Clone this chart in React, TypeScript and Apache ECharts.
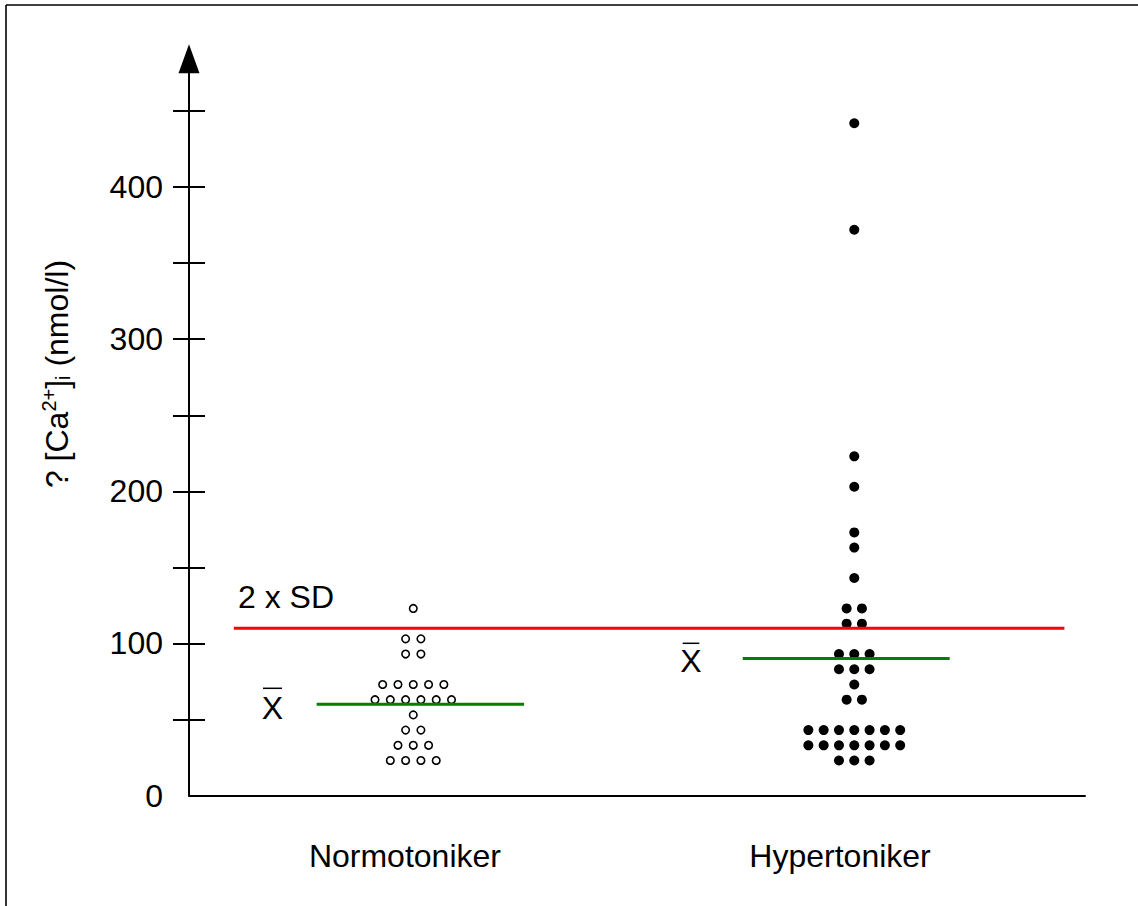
import React, { useEffect, useRef } from "react";
import * as echarts from "echarts";

// ---- data ----
const categories = ["Normotoniker", "Hypertoniker"];
const normoValues = [123, 103, 103, 93, 93, 73, 73, 73, 73, 73, 63, 63, 63, 63, 63, 63, 53, 43, 43, 33, 33, 33, 23, 23, 23, 23];
const hyperValues = [442, 372, 223, 203, 173, 163, 143, 123, 123, 113, 113, 93, 93, 93, 83, 83, 83, 73, 63, 63, 43, 43, 43, 43, 43, 43, 43, 33, 33, 33, 33, 33, 33, 33, 23, 23, 23];
const meanValues = [60, 90];
const sdLimit = 110;
const yLabelTicks = [0, 100, 200, 300, 400];
const yMinorTicks = [50, 100, 150, 200, 250, 300, 350, 400, 450];

// ---- layout (x axis runs 0..100 as horizontal position) ----
const Y_MAX = 484.4;
const groupCenters = [25.03, 74.25];
const labelCenters = [24.1, 72.66];
const dotStep = 1.708;
const meanExtents = [
  [14.25, 37.4],
  [61.8, 84.9],
];
const sdExtent = [5.0, 97.7];

const FONT = "'Liberation Sans', Arial, Helvetica, sans-serif";

function swarm(values: number[], center: number, step: number) {
  const counts = new Map<number, number>();
  values.forEach((v) => counts.set(v, (counts.get(v) || 0) + 1));
  const out: number[][] = [];
  counts.forEach((n, v) => {
    for (let i = 0; i < n; i++) out.push([center + (i - (n - 1) / 2) * step, v]);
  });
  return out;
}

export default function App() {
  const ref = useRef<HTMLDivElement>(null);
  useEffect(() => {
    if (!ref.current) return;
    const chart = echarts.init(ref.current, null, { renderer: "svg" });
    const option: any = {
      animation: false,
      backgroundColor: "#fff",
      grid: { left: 189, right: 53, top: 58.8, bottom: 110.5, containLabel: false },
      xAxis: {
        type: "value",
        min: 0,
        max: 100,
        splitLine: { show: false },
        axisLine: { show: true, lineStyle: { color: "#000", width: 2 } },
        axisTick: { show: false },
        axisLabel: {
          customValues: labelCenters,
          formatter: (v: number) => (v < 50 ? categories[0] : categories[1]),
          color: "#000",
          fontSize: 32,
          fontFamily: FONT,
          margin: 44,
        },
      },
      yAxis: [
        {
          type: "value",
          min: 0,
          max: Y_MAX,
          splitLine: { show: false },
          axisLine: {
            show: true,
            lineStyle: { color: "#000", width: 2 },
            symbol: ["none", "triangle"],
            symbolSize: [21, 29],
          },
          axisTick: { show: true, length: 16, customValues: yMinorTicks, lineStyle: { color: "#000", width: 2 } },
          axisLabel: {
            customValues: yLabelTicks,
            color: "#000",
            fontSize: 32,
            fontFamily: FONT,
            margin: 26,
          },
        },
        {
          type: "value",
          min: 0,
          max: Y_MAX,
          position: "left",
          splitLine: { show: false },
          axisLine: { show: false },
          axisTick: { show: true, inside: true, length: 16, customValues: yMinorTicks, lineStyle: { color: "#000", width: 2 } },
          axisLabel: { show: false },
        },
      ],
      series: [
        {
          type: "scatter",
          name: categories[0],
          data: swarm(normoValues, groupCenters[0], dotStep),
          symbol: "circle",
          symbolSize: 7.5,
          itemStyle: { color: "#fff", borderColor: "#000", borderWidth: 1.6, opacity: 1 },
          z: 2,
        },
        {
          type: "scatter",
          name: categories[1],
          data: swarm(hyperValues, groupCenters[1], dotStep),
          symbol: "circle",
          symbolSize: 10,
          itemStyle: { color: "#000", opacity: 1 },
          z: 2,
        },
        {
          type: "line",
          data: [
            [sdExtent[0], sdLimit],
            [sdExtent[1], sdLimit],
          ],
          symbol: "none",
          lineStyle: { color: "#ff0000", width: 3 },
          z: 5,
        },
        ...meanValues.map((m, i) => ({
          type: "line",
          data: [
            [meanExtents[i][0], m],
            [meanExtents[i][1], m],
          ],
          symbol: "none",
          lineStyle: { color: "#008000", width: 3 },
          z: 5,
        })),
      ],
      graphic: [
        { type: "line", shape: { x1: 6, y1: 5, x2: 6, y2: 1000 }, style: { stroke: "#000", lineWidth: 1.6 } },
        { type: "line", shape: { x1: 6, y1: 5, x2: 1200, y2: 5 }, style: { stroke: "#000", lineWidth: 1.6 } },
        {
          type: "text",
          x: 238,
          y: 597,
          style: { text: "2 x SD", font: `32px ${FONT}`, fill: "#000", textAlign: "left", textVerticalAlign: "middle" },
        },
        {
          type: "text",
          x: 272.5,
          y: 708,
          style: { text: "X", font: `32px ${FONT}`, fill: "#000", textAlign: "center", textVerticalAlign: "middle" },
        },
        { type: "line", shape: { x1: 263, y1: 688.3, x2: 282, y2: 688.3 }, style: { stroke: "#000", lineWidth: 1.5 } },
        {
          type: "text",
          x: 691,
          y: 660.5,
          style: { text: "X", font: `32px ${FONT}`, fill: "#000", textAlign: "center", textVerticalAlign: "middle" },
        },
        { type: "line", shape: { x1: 682.7, y1: 643.3, x2: 699.3, y2: 643.3 }, style: { stroke: "#000", lineWidth: 1.5 } },
        {
          type: "text",
          x: 57,
          y: 374,
          rotation: Math.PI / 2,
          style: {
            text: "{a|? [Ca}{sup|2+}{a|]}{sub|i}{a| (nmol/l)}",
            textAlign: "center",
            textVerticalAlign: "middle",
            fill: "#000",
            rich: {
              a: { fontSize: 32, fontFamily: FONT, color: "#000", lineHeight: 40, verticalAlign: "middle" },
              sup: { fontSize: 20, fontFamily: FONT, color: "#000", lineHeight: 40, verticalAlign: "top", padding: [2, 0, 0, 0] },
              sub: { fontSize: 20, fontFamily: FONT, color: "#000", lineHeight: 40, verticalAlign: "bottom", padding: [0, 0, 4, 0] },
            },
          },
        },
      ],
    };
    chart.setOption(option);
    return () => chart.dispose();
  }, []);
  return (
    <div
      ref={ref}
      style={{ position: "absolute", left: 0, top: 0, width: 1138, height: 906, background: "#fff" }}
    />
  );
}
